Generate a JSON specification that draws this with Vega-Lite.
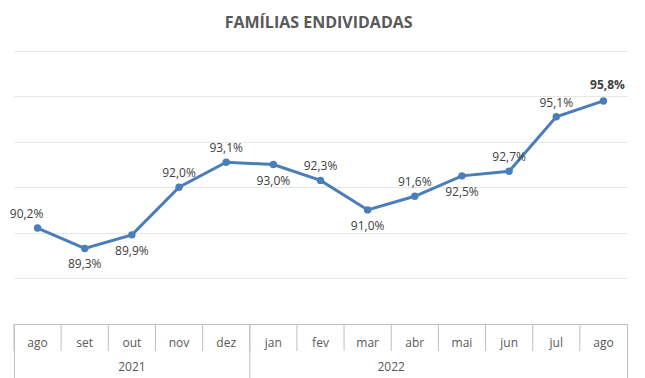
{
  "$schema": "https://vega.github.io/schema/vega-lite/v6.json",
  "background": "white",
  "padding": {"left": 9, "right": 23, "top": 15, "bottom": 1},
  "title": {"text": "FAMÍLIAS ENDIVIDADAS", "font": "Open Sans", "fontSize": 16, "fontWeight": "bold", "color": "#595959", "anchor": "middle", "offset": 20},
  "config": {
    "locale": {"number": {"decimal": ",", "thousands": ".", "grouping": [3], "currency": ["R$", ""]}},
    "view": {"stroke": null},
    "text": {"font": "Open Sans", "fontSize": 12, "color": "#404040"}
  },
  "spacing": 45,
  "datasets": {
    "serie": [
      {"m": "ago-21", "mes": "ago", "ano": "2021", "v": 0.902},
      {"m": "set-21", "mes": "set", "ano": "2021", "v": 0.893},
      {"m": "out-21", "mes": "out", "ano": "2021", "v": 0.899},
      {"m": "nov-21", "mes": "nov", "ano": "2021", "v": 0.920},
      {"m": "dez-21", "mes": "dez", "ano": "2021", "v": 0.931},
      {"m": "jan-22", "mes": "jan", "ano": "2022", "v": 0.930},
      {"m": "fev-22", "mes": "fev", "ano": "2022", "v": 0.923},
      {"m": "mar-22", "mes": "mar", "ano": "2022", "v": 0.910},
      {"m": "abr-22", "mes": "abr", "ano": "2022", "v": 0.916},
      {"m": "mai-22", "mes": "mai", "ano": "2022", "v": 0.925},
      {"m": "jun-22", "mes": "jun", "ano": "2022", "v": 0.927},
      {"m": "jul-22", "mes": "jul", "ano": "2022", "v": 0.951},
      {"m": "ago-22", "mes": "ago", "ano": "2022", "v": 0.958}
    ],
    "anos": [
      {"ano": "2021", "centro": "out-21", "inicio": "ago-21"},
      {"ano": "2022", "centro": "abr-22", "inicio": "jan-22"}
    ]
  },
  "vconcat": [
    {
      "width": 613,
      "height": 227,
      "data": {"name": "serie"},
      "encoding": {
        "x": {"field": "m", "type": "ordinal", "axis": null,
              "scale": {"type": "band", "paddingInner": 0, "paddingOuter": 0,
                        "domain": ["ago-21","set-21","out-21","nov-21","dez-21","jan-22","fev-22","mar-22","abr-22","mai-22","jun-22","jul-22","ago-22"]}},
        "y": {"field": "v", "type": "quantitative",
              "scale": {"domain": [0.88, 0.98], "nice": false, "zero": false},
              "axis": {"values": [0.88, 0.90, 0.92, 0.94, 0.96, 0.98], "grid": true, "gridColor": "#e6e6e6", "gridWidth": 1,
                       "labels": false, "ticks": false, "domain": false, "title": null, "minExtent": 0, "maxExtent": 0}}
      },
      "layer": [
        {"mark": {"type": "line", "color": "#4a7ebb", "strokeWidth": 3}},
        {"mark": {"type": "point", "filled": true, "size": 55, "color": "#4a7ebb", "opacity": 1}},
        {
          "transform": [{"filter": "indexof(['nov-21','dez-21','fev-22','abr-22','jun-22','jul-22'], datum.m) >= 0"}],
          "mark": {"type": "text", "baseline": "middle", "dy": -14},
          "encoding": {"text": {"field": "v", "type": "quantitative", "format": ".1%"}}
        },
        {
          "transform": [{"filter": "indexof(['set-21','out-21','jan-22','mar-22','mai-22'], datum.m) >= 0"}],
          "mark": {"type": "text", "baseline": "middle", "dy": 16},
          "encoding": {"text": {"field": "v", "type": "quantitative", "format": ".1%"}}
        },
        {
          "transform": [{"filter": "datum.m == 'ago-21'"}],
          "mark": {"type": "text", "baseline": "middle", "dy": -14, "dx": -11},
          "encoding": {"text": {"field": "v", "type": "quantitative", "format": ".1%"}}
        },
        {
          "transform": [{"filter": "datum.m == 'ago-22'"}],
          "mark": {"type": "text", "baseline": "middle", "dy": -16, "dx": 4, "fontWeight": "bold"},
          "encoding": {"text": {"field": "v", "type": "quantitative", "format": ".1%"}}
        }
      ]
    },
    {
      "width": 613,
      "height": 54,
      "view": {"stroke": "#bfbfbf", "strokeWidth": 1},
      "layer": [
        {
          "data": {"name": "serie"},
          "mark": {"type": "rule", "color": "#bfbfbf", "strokeWidth": 1},
          "encoding": {
            "x": {"field": "m", "type": "ordinal", "bandPosition": 0, "axis": null,
                  "scale": {"type": "band", "paddingInner": 0, "paddingOuter": 0,
                            "domain": ["ago-21","set-21","out-21","nov-21","dez-21","jan-22","fev-22","mar-22","abr-22","mai-22","jun-22","jul-22","ago-22"]}},
            "y": {"datum": 1, "type": "quantitative", "scale": {"domain": [0, 2], "nice": false, "zero": false}, "axis": null},
            "y2": {"datum": 2}
          }
        },
        {
          "data": {"name": "anos"},
          "transform": [{"filter": "datum.ano == '2022'"}],
          "mark": {"type": "rule", "color": "#bfbfbf", "strokeWidth": 1},
          "encoding": {
            "x": {"field": "inicio", "type": "ordinal", "bandPosition": 0, "axis": null},
            "y": {"datum": 0, "type": "quantitative", "scale": {"domain": [0, 2], "nice": false, "zero": false}, "axis": null},
            "y2": {"datum": 2}
          }
        },
        {
          "data": {"name": "serie"},
          "mark": {"type": "text", "baseline": "middle", "color": "#595959"},
          "encoding": {
            "x": {"field": "m", "type": "ordinal", "axis": null},
            "y": {"datum": 1.3, "type": "quantitative", "scale": {"domain": [0, 2], "nice": false, "zero": false}, "axis": null},
            "text": {"field": "mes"}
          }
        },
        {
          "data": {"name": "anos"},
          "transform": [{"filter": "datum.ano == '2021'"}],
          "mark": {"type": "text", "baseline": "middle", "color": "#595959"},
          "encoding": {
            "x": {"field": "centro", "type": "ordinal", "axis": null},
            "y": {"datum": 0.4, "type": "quantitative", "scale": {"domain": [0, 2], "nice": false, "zero": false}, "axis": null},
            "text": {"field": "ano"}
          }
        },
        {
          "data": {"name": "anos"},
          "transform": [{"filter": "datum.ano == '2022'"}],
          "mark": {"type": "text", "baseline": "middle", "color": "#595959"},
          "encoding": {
            "x": {"field": "centro", "type": "ordinal", "bandPosition": 0, "axis": null},
            "y": {"datum": 0.4, "type": "quantitative", "scale": {"domain": [0, 2], "nice": false, "zero": false}, "axis": null},
            "text": {"field": "ano"}
          }
        }
      ]
    }
  ]
}
